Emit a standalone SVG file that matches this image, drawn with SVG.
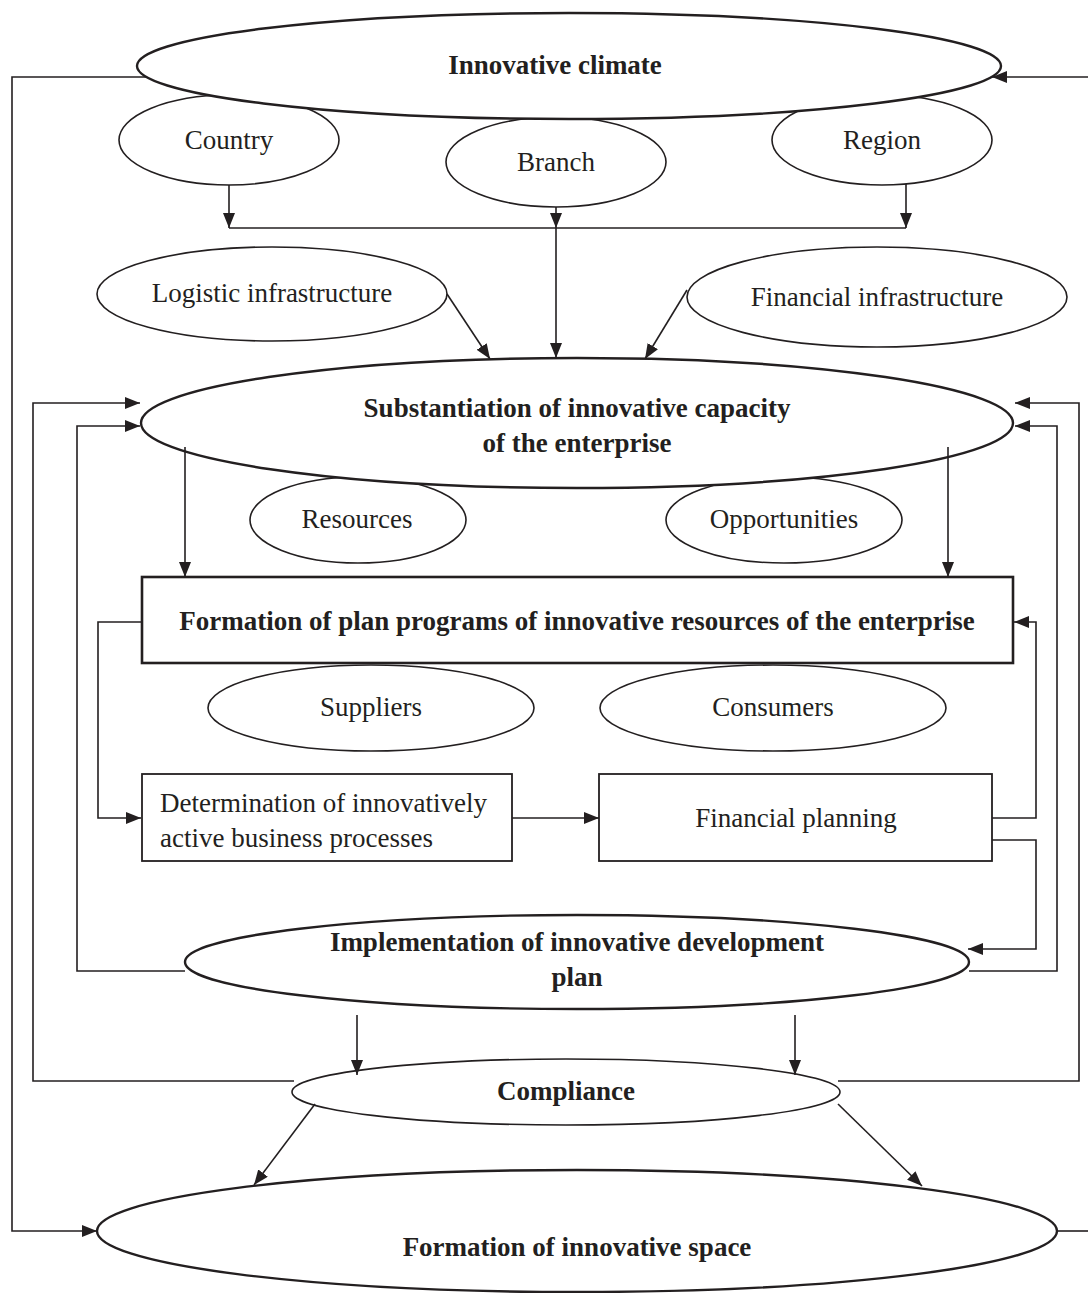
<svg xmlns="http://www.w3.org/2000/svg" width="1088" height="1293" viewBox="0 0 1088 1293">
<style>
  .node ellipse, .node rect { fill: #ffffff; stroke: #231f20; }
  .small ellipse { stroke-width: 1.6; }
  .big ellipse { stroke-width: 2.4; }
  .box rect { stroke-width: 1.8; }
  .boxb rect { stroke-width: 2.6; }
  text { font-family: "Liberation Serif", "Times New Roman", serif; font-size: 27px; fill: #231f20; }
  .b { font-weight: bold; }
  .c { text-anchor: middle; }
  .conn path, .conn line { fill: none; stroke: #231f20; stroke-width: 1.6; }
</style>
<defs>
  <marker id="ah" markerUnits="userSpaceOnUse" markerWidth="15" markerHeight="12" refX="15" refY="6" orient="auto">
    <path d="M0,0 L15,6 L0,12 Z" fill="#231f20"/>
  </marker>
</defs>
<rect width="1088" height="1293" fill="#ffffff"/>

<g id="country" class="node small"><ellipse cx="229" cy="140" rx="110" ry="45"/><text class="c" x="229" y="149">Country</text></g>
<g id="branch" class="node small"><ellipse cx="556" cy="162" rx="110" ry="45"/><text class="c" x="556" y="171">Branch</text></g>
<g id="region" class="node small"><ellipse cx="882" cy="140" rx="110" ry="45"/><text class="c" x="882" y="149">Region</text></g>

<g id="climate" class="node big"><ellipse cx="569" cy="66" rx="432" ry="53"/><text class="c b" x="555" y="74">Innovative climate</text></g>

<g id="logistic" class="node small"><ellipse cx="272" cy="294" rx="175" ry="47"/><text class="c" x="272" y="302">Logistic infrastructure</text></g>
<g id="financialinfra" class="node small"><ellipse cx="877" cy="297" rx="190" ry="50"/><text class="c" x="877" y="306">Financial infrastructure</text></g>

<g id="resources" class="node small"><ellipse cx="358" cy="520" rx="108" ry="43"/><text class="c" x="357" y="528">Resources</text></g>
<g id="opportunities" class="node small"><ellipse cx="784" cy="520" rx="118" ry="43"/><text class="c" x="784" y="528">Opportunities</text></g>

<g id="substantiation" class="node big"><ellipse cx="577" cy="423" rx="436" ry="65"/>
  <text class="c b" x="577" y="417">Substantiation of innovative capacity</text>
  <text class="c b" x="577" y="452">of the enterprise</text></g>

<g id="formation" class="node boxb"><rect x="142" y="577" width="871" height="86"/><text class="c b" x="577" y="630">Formation of plan programs of innovative resources of the enterprise</text></g>

<g id="suppliers" class="node small"><ellipse cx="371" cy="708" rx="163" ry="43"/><text class="c" x="371" y="716">Suppliers</text></g>
<g id="consumers" class="node small"><ellipse cx="773" cy="708" rx="173" ry="43"/><text class="c" x="773" y="716">Consumers</text></g>

<g id="determination" class="node box"><rect x="142" y="774" width="370" height="87"/>
  <text x="160" y="812">Determination of innovatively</text>
  <text x="160" y="847">active business processes</text></g>
<g id="financialplanning" class="node box"><rect x="599" y="774" width="393" height="87"/><text class="c" x="796" y="827">Financial planning</text></g>

<g id="implementation" class="node big"><ellipse cx="577" cy="962" rx="392" ry="47"/>
  <text class="c b" x="577" y="951">Implementation of innovative development</text>
  <text class="c b" x="577" y="986">plan</text></g>

<g id="compliance" class="node small"><ellipse cx="566" cy="1092" rx="274" ry="33"/><text class="c b" x="566" y="1100">Compliance</text></g>

<g id="space" class="node big"><ellipse cx="577" cy="1231" rx="480" ry="61"/><text class="c b" x="577" y="1256">Formation of innovative space</text></g>

<g id="connectors" class="conn">
  <path d="M147,77 H12 V1231 H97" marker-end="url(#ah)"/>
  <line x1="1088" y1="77" x2="992" y2="77" marker-end="url(#ah)"/>
  <line x1="1057" y1="1231" x2="1088" y2="1231"/>
  <line x1="229" y1="185" x2="229" y2="228" marker-end="url(#ah)"/>
  <line x1="556" y1="207" x2="556" y2="228" marker-end="url(#ah)"/>
  <line x1="906" y1="184" x2="906" y2="228" marker-end="url(#ah)"/>
  <line x1="229" y1="228" x2="906" y2="228"/>
  <line x1="556" y1="228" x2="556" y2="358" marker-end="url(#ah)"/>
  <line x1="447" y1="294" x2="490" y2="359" marker-end="url(#ah)"/>
  <line x1="687" y1="290" x2="645" y2="359" marker-end="url(#ah)"/>
  <path d="M294,1081 H33 V403 H140" marker-end="url(#ah)"/>
  <path d="M185,971 H77 V426 H140" marker-end="url(#ah)"/>
  <path d="M838,1081 H1079 V403 H1015" marker-end="url(#ah)"/>
  <path d="M969,971 H1057 V426 H1015" marker-end="url(#ah)"/>
  <line x1="185" y1="447" x2="185" y2="577" marker-end="url(#ah)"/>
  <line x1="948" y1="447" x2="948" y2="577" marker-end="url(#ah)"/>
  <path d="M142,622 H98 V818 H141" marker-end="url(#ah)"/>
  <line x1="512" y1="818" x2="599" y2="818" marker-end="url(#ah)"/>
  <path d="M992,818 H1036 V622 H1014" marker-end="url(#ah)"/>
  <path d="M992,840 H1036 V949 H968" marker-end="url(#ah)"/>
  <line x1="357" y1="1015" x2="357" y2="1075" marker-end="url(#ah)"/>
  <line x1="795" y1="1015" x2="795" y2="1075" marker-end="url(#ah)"/>
  <line x1="315" y1="1104" x2="254" y2="1185" marker-end="url(#ah)"/>
  <line x1="838" y1="1104" x2="922" y2="1186" marker-end="url(#ah)"/>
</g>
</svg>
